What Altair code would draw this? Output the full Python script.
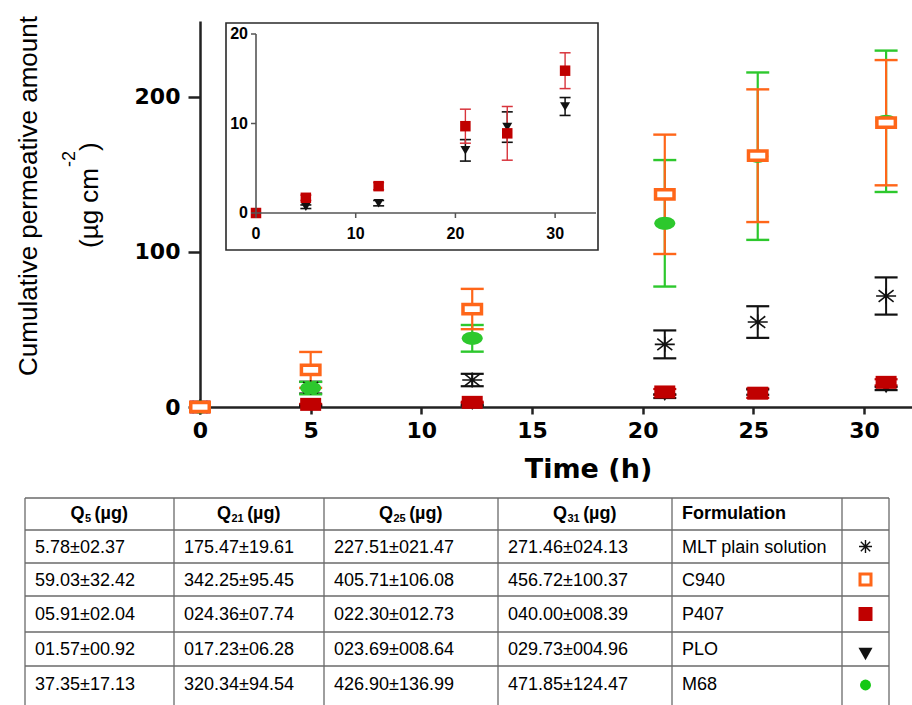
import altair as alt
import pandas as pd

# ---------------------------------------------------------------------------
# Data
# ---------------------------------------------------------------------------
# sampling times (h)
times = [0, 5, 12.3, 21, 25.2, 31]

# cumulative permeated amount (ug cm-2): mean and SD per formulation
mlt_mean = [0, 12.5, 17.4, 40.4, 54.8, 71.6]
mlt_sd = [0, 3.8, 4.0, 9.0, 10.2, 12.0]
c940_mean = [0, 23.9, 63.2, 137.2, 162.1, 183.4]
c940_sd = [0, 11.6, 13.0, 38.5, 42.8, 40.4]
m68_mean = [0, 12.2, 44.3, 118.5, 161.8, 184.3]
m68_sd = [0, 4.0, 8.6, 40.8, 54.0, 45.6]
p407_mean = [0, 1.7, 3.0, 9.7, 8.9, 15.9]
p407_sd = [0, 0.3, 0.4, 1.9, 3.0, 2.0]
plo_mean = [0, 0.7, 1.1, 7.0, 9.6, 11.9]
plo_sd = [0, 0.2, 0.3, 1.2, 1.7, 1.0]

# axis ticks
main_x_ticks = [0, 5, 10, 15, 20, 25, 30]
main_y_ticks = [0, 100, 200]
inset_x_ticks = [0, 10, 20, 30]
inset_y_ticks = [0, 10, 20]

# summary table
q_headers = ["5", "21", "25", "31"]
q5 = ["5.78±02.37", "59.03±32.42", "05.91±02.04", "01.57±00.92", "37.35±17.13"]
q21 = ["175.47±19.61", "342.25±95.45", "024.36±07.74", "017.23±06.28", "320.34±94.54"]
q25 = ["227.51±021.47", "405.71±106.08", "022.30±012.73", "023.69±008.64", "426.90±136.99"]
q31 = ["271.46±024.13", "456.72±100.37", "040.00±008.39", "029.73±004.96", "471.85±124.47"]
formulations = ["MLT plain solution", "C940", "P407", "PLO", "M68"]

# ---------------------------------------------------------------------------
# Layout / styling
# ---------------------------------------------------------------------------
W, H = 912, 705
ORANGE = "#FF6619"
GREEN = "#2DC82D"
RED = "#C00000"
RED_BAR = "#D8343C"
BLACK = "#111111"
AXIS = "#222222"
TICK_FONT = "DejaVu Sans"
TEXT_FONT = "Liberation Sans"

MAIN_X = alt.Scale(domain=[0, 32.17], range=[200, 912], nice=False, zero=False)
MAIN_Y = alt.Scale(domain=[0, 249], range=[407, 21], nice=False, zero=False)
INSET_X = alt.Scale(domain=[0, 34.1], range=[256, 596], nice=False, zero=False)
INSET_Y = alt.Scale(domain=[0, 20], range=[213, 34], nice=False, zero=False)

X_AXIS = alt.Axis(
    orient="bottom", offset=-(H - 407), values=main_x_ticks, grid=False,
    domainColor=AXIS, domainWidth=2.5, tickColor=AXIS, tickWidth=2.5, tickSize=7,
    labelFont=TICK_FONT, labelFontWeight="bold", labelFontSize=22, labelColor="black",
    labelPadding=6, labelFlush=False,
    title="Time (h)", titleFont=TICK_FONT, titleFontWeight="bold", titleFontSize=27,
    titleColor="black", titleX=588, titleY=62, titleAlign="center", titleBaseline="middle",
)
Y_AXIS = alt.Axis(
    orient="left", offset=-200, values=main_y_ticks, grid=False,
    domainColor=AXIS, domainWidth=2.5, tickColor=AXIS, tickWidth=2.5, tickSize=12,
    labelFont=TICK_FONT, labelFontWeight="bold", labelFontSize=22, labelColor="black",
    labelPadding=8, labelFlush=False, title=None,
)

# marker paths, unit box [-1, 1]
RECT_OPEN = "M-1,-0.5H1V0.5H-1Z"
RECT_FLAT = "M-1,-0.62H1V0.62H-1Z"
ELLIPSE = "M-1,0A1,0.62,0,1,0,1,0A1,0.62,0,1,0,-1,0Z"
ASTER_FLAT = "M-1,0H1M0,-0.75V0.75M-0.75,-0.58L0.75,0.58M-0.75,0.58L0.75,-0.58"
TRI_DOWN = "M-1,-0.8H1L0,0.8Z"
SQUARE = "M-1,-1H1V1H-1Z"
ASTER = "M-1,0H1M0,-1V1M-0.72,-0.72L0.72,0.72M-0.72,0.72L0.72,-0.72"


def series_frame(mean, sd):
    return pd.DataFrame({
        "t": times,
        "m": mean,
        "lo": [a - b for a, b in zip(mean, sd)],
        "hi": [a + b for a, b in zip(mean, sd)],
        "sd": sd,
    })


def mx(field):
    return alt.X(field, type="quantitative", scale=MAIN_X, axis=X_AXIS)


def my(field):
    return alt.Y(field, type="quantitative", scale=MAIN_Y, axis=Y_AXIS)


def ix(field):
    return alt.X(field, type="quantitative", scale=INSET_X, axis=None)


def iy(field):
    return alt.Y(field, type="quantitative", scale=INSET_Y, axis=None)


def error_bars(df, color, xenc, yenc, width, cap, line):
    d = df[df["sd"] > 0]
    stem = alt.Chart(d).mark_rule(color=color, strokeWidth=width).encode(
        x=xenc("t"), y=yenc("lo"), y2="hi")
    lo_cap = alt.Chart(d).mark_tick(color=color, orient="horizontal", size=cap,
                                    thickness=line, opacity=1).encode(x=xenc("t"), y=yenc("lo"))
    hi_cap = alt.Chart(d).mark_tick(color=color, orient="horizontal", size=cap,
                                    thickness=line, opacity=1).encode(x=xenc("t"), y=yenc("hi"))
    return [stem, lo_cap, hi_cap]


def markers(df, xenc, yenc, shape, size, fill=None, stroke=None, stroke_width=0):
    props = dict(shape=shape, size=size, opacity=1, filled=fill is not None)
    if fill is not None:
        props["fill"] = fill
        props["fillOpacity"] = 1
    if stroke is not None:
        props["stroke"] = stroke
        props["strokeWidth"] = stroke_width
        props["strokeOpacity"] = 1
    return alt.Chart(df).mark_point(**props).encode(x=xenc("t"), y=yenc("m"))


mlt = series_frame(mlt_mean, mlt_sd)
c940 = series_frame(c940_mean, c940_sd)
m68 = series_frame(m68_mean, m68_sd)
p407 = series_frame(p407_mean, p407_sd)
plo = series_frame(plo_mean, plo_sd)

# ---------------------------------------------------------------------------
# Main plot
# ---------------------------------------------------------------------------
main_layers = []
main_layers += error_bars(mlt, BLACK, mx, my, 2.0, 23, 2.2)
main_layers += error_bars(p407, RED, mx, my, 2.0, 23, 2.2)
main_layers += error_bars(plo, BLACK, mx, my, 2.0, 23, 2.2)
main_layers += error_bars(m68, GREEN, mx, my, 2.2, 23, 2.4)
main_layers += error_bars(c940, ORANGE, mx, my, 2.2, 23, 2.4)
main_layers.append(markers(plo, mx, my, TRI_DOWN, 144, fill=BLACK))
main_layers.append(markers(p407, mx, my, RECT_FLAT, 441, fill=RED))
main_layers.append(markers(mlt, mx, my, ASTER_FLAT, 400, stroke=BLACK, stroke_width=1.6))
main_layers.append(markers(m68, mx, my, ELLIPSE, 441, fill=GREEN))
main_layers.append(markers(c940, mx, my, RECT_OPEN, 342, fill="white", stroke=ORANGE, stroke_width=3.5))
main = alt.layer(*main_layers)

# y-axis title (two lines, rotated, with superscript)
YT_FS = 26
ytitle = [
    alt.Chart(pd.DataFrame({"s": ["Cumulative permeative amount"]})).mark_text(
        angle=270, align="center", baseline="middle", font=TEXT_FONT, fontSize=YT_FS, color="black"
    ).encode(x=alt.value(29), y=alt.value(196), text="s:N"),
    alt.Chart(pd.DataFrame({"s": ["(µg cm"]})).mark_text(
        angle=270, align="left", baseline="middle", font=TEXT_FONT, fontSize=YT_FS, color="black"
    ).encode(x=alt.value(90), y=alt.value(248), text="s:N"),
    alt.Chart(pd.DataFrame({"s": ["-2"]})).mark_text(
        angle=270, align="left", baseline="middle", font=TEXT_FONT, fontSize=18, color="black"
    ).encode(x=alt.value(70), y=alt.value(167), text="s:N"),
    alt.Chart(pd.DataFrame({"s": [")"]})).mark_text(
        angle=270, align="left", baseline="middle", font=TEXT_FONT, fontSize=YT_FS, color="black"
    ).encode(x=alt.value(90), y=alt.value(151), text="s:N"),
]
ytitle_layer = alt.layer(*ytitle)

# ---------------------------------------------------------------------------
# Inset (P407 and PLO, zoomed)
# ---------------------------------------------------------------------------
frame = alt.Chart(pd.DataFrame({"k": [0]})).mark_rect(
    fill="white", stroke="#2a2a2a", strokeWidth=1.6
).encode(x=alt.value(226), x2=alt.value(598), y=alt.value(23), y2=alt.value(250))

inset_layers = [frame]
inset_layers += error_bars(plo, BLACK, ix, iy, 1.5, 11, 1.6)
inset_layers += error_bars(p407, RED_BAR, ix, iy, 1.4, 11, 1.5)
inset_layers.append(markers(plo, ix, iy, "M-1,-0.85H1L0,0.85Z", 100, fill=BLACK))
inset_layers.append(markers(p407, ix, iy, SQUARE, 110, fill=RED))

ax_df = pd.DataFrame({"x0": [0], "x1": [34.1], "y0": [0], "y1": [20]})
inset_layers.append(alt.Chart(ax_df).mark_rule(color="#555", strokeWidth=1.6).encode(
    x=ix("x0"), y=iy("y0"), y2="y1"))
inset_layers.append(alt.Chart(ax_df).mark_rule(color="#555", strokeWidth=1.6).encode(
    x=ix("x0"), x2="x1", y=iy("y0")))
ixt = pd.DataFrame({"v": inset_x_ticks, "z": [0] * len(inset_x_ticks),
                    "lab": [str(v) for v in inset_x_ticks]})
iyt = pd.DataFrame({"v": inset_y_ticks, "z": [0] * len(inset_y_ticks),
                    "lab": [str(v) for v in inset_y_ticks]})
inset_layers.append(alt.Chart(ixt).mark_tick(orient="vertical", size=5, thickness=1.5,
                                              color="#555", yOffset=2.5, opacity=1).encode(
    x=ix("v"), y=iy("z")))
inset_layers.append(alt.Chart(iyt).mark_tick(orient="horizontal", size=5, thickness=1.5,
                                              color="#555", xOffset=-2.5, opacity=1).encode(
    x=ix("z"), y=iy("v")))
inset_layers.append(alt.Chart(ixt).mark_text(font=TEXT_FONT, fontWeight="bold", fontSize=16,
                                              baseline="middle", dy=21, color="black").encode(
    x=ix("v"), y=iy("z"), text="lab:N"))
inset_layers.append(alt.Chart(iyt).mark_text(font=TEXT_FONT, fontWeight="bold", fontSize=16,
                                              align="right", baseline="middle", dx=-8,
                                              color="black").encode(
    x=ix("z"), y=iy("v"), text="lab:N"))
inset = alt.layer(*inset_layers)

# ---------------------------------------------------------------------------
# Summary table
# ---------------------------------------------------------------------------
col_edges = [25, 174, 324, 498, 672, 842, 889]
row_edges = [498, 530, 563, 596, 632, 666]
TABLE_BOTTOM = 705
ROW_H = 36


def row_center(i):
    top = row_edges[i]
    bottom = row_edges[i + 1] if i + 1 < len(row_edges) else top + ROW_H
    return (top + bottom) / 2


grid_v = pd.DataFrame({"x": col_edges, "y0": [row_edges[0]] * len(col_edges),
                       "y1": [TABLE_BOTTOM] * len(col_edges)})
grid_h = pd.DataFrame({"y": row_edges, "x0": [col_edges[0]] * len(row_edges),
                       "x1": [col_edges[-1]] * len(row_edges)})


def px(f):
    return alt.X(f, type="quantitative", scale=None, axis=None)


def py(f):
    return alt.Y(f, type="quantitative", scale=None, axis=None)


table_layers = [
    alt.Chart(grid_v).mark_rule(color="#6a6a6a", strokeWidth=1.3).encode(
        x=px("x"), y=py("y0"), y2="y1"),
    alt.Chart(grid_h).mark_rule(color="#6a6a6a", strokeWidth=1.3).encode(
        x=px("x0"), x2="x1", y=py("y")),
]

# body cells
cells = []
for c, col in enumerate([q5, q21, q25, q31, formulations]):
    for r, txt in enumerate(col):
        cells.append({"x": col_edges[c] + 10, "y": row_center(r + 1) + 1, "s": txt})
table_layers.append(alt.Chart(pd.DataFrame(cells)).mark_text(
    align="left", baseline="middle", font=TEXT_FONT, fontSize=18, color="black"
).encode(x=px("x"), y=py("y"), text="s:N"))

# header cells: "Q" + subscript + "(µg)"
FS = 18
SUB_FS = 11
W_Q = 0.778 * FS
GAP = 4
W_REST = 1.888 * FS
head_main, head_sub, head_rest = [], [], []
hy = row_center(0)
for c, sub in enumerate(q_headers):
    cx = (col_edges[c] + col_edges[c + 1]) / 2
    w_sub = 0.556 * SUB_FS * len(sub)
    x0 = cx - (W_Q + w_sub + GAP + W_REST) / 2
    head_main.append({"x": x0, "y": hy, "s": "Q"})
    head_sub.append({"x": x0 + W_Q + 0.5, "y": hy + 5, "s": sub})
    head_rest.append({"x": x0 + W_Q + w_sub + GAP, "y": hy, "s": "(µg)"})
head_rest.append({"x": col_edges[4] + 10, "y": hy, "s": "Formulation"})
for rows, size in [(head_main, FS), (head_sub, SUB_FS), (head_rest, FS)]:
    table_layers.append(alt.Chart(pd.DataFrame(rows)).mark_text(
        align="left", baseline="middle", font=TEXT_FONT, fontWeight="bold",
        fontSize=size, color="black"
    ).encode(x=px("x"), y=py("y"), text="s:N"))

# symbol key column
icx = (col_edges[5] + col_edges[6]) / 2
icons = [
    (ASTER, 169, None, BLACK, 1.4, 0),
    (SQUARE, 121, "white", ORANGE, 3.0, 0),
    (SQUARE, 196, RED, None, 0, 0),
    ("M-1,-0.9H1L0,0.9Z", 196, BLACK, None, 0, 5),
    ("circle", 120, "#14C814", None, 0, 1),
]
for r, (shape, size, fill, stroke, sw, dy) in enumerate(icons):
    d = pd.DataFrame({"x": [icx], "y": [row_center(r + 1) + dy]})
    props = dict(shape=shape, size=size, opacity=1, filled=fill is not None)
    if fill is not None:
        props["fill"] = fill
        props["fillOpacity"] = 1
    if stroke is not None:
        props["stroke"] = stroke
        props["strokeWidth"] = sw
    table_layers.append(alt.Chart(d).mark_point(**props).encode(x=px("x"), y=py("y")))
table = alt.layer(*table_layers)

# ---------------------------------------------------------------------------
chart = alt.layer(main, ytitle_layer, inset, table).resolve_scale(
    x="independent", y="independent"
).properties(
    width=W, height=H, padding=0,
    autosize=alt.AutoSizeParams(type="none"),
).configure_view(stroke=None)

chart.save("out.html", embed_options={"renderer": "svg", "actions": False})
